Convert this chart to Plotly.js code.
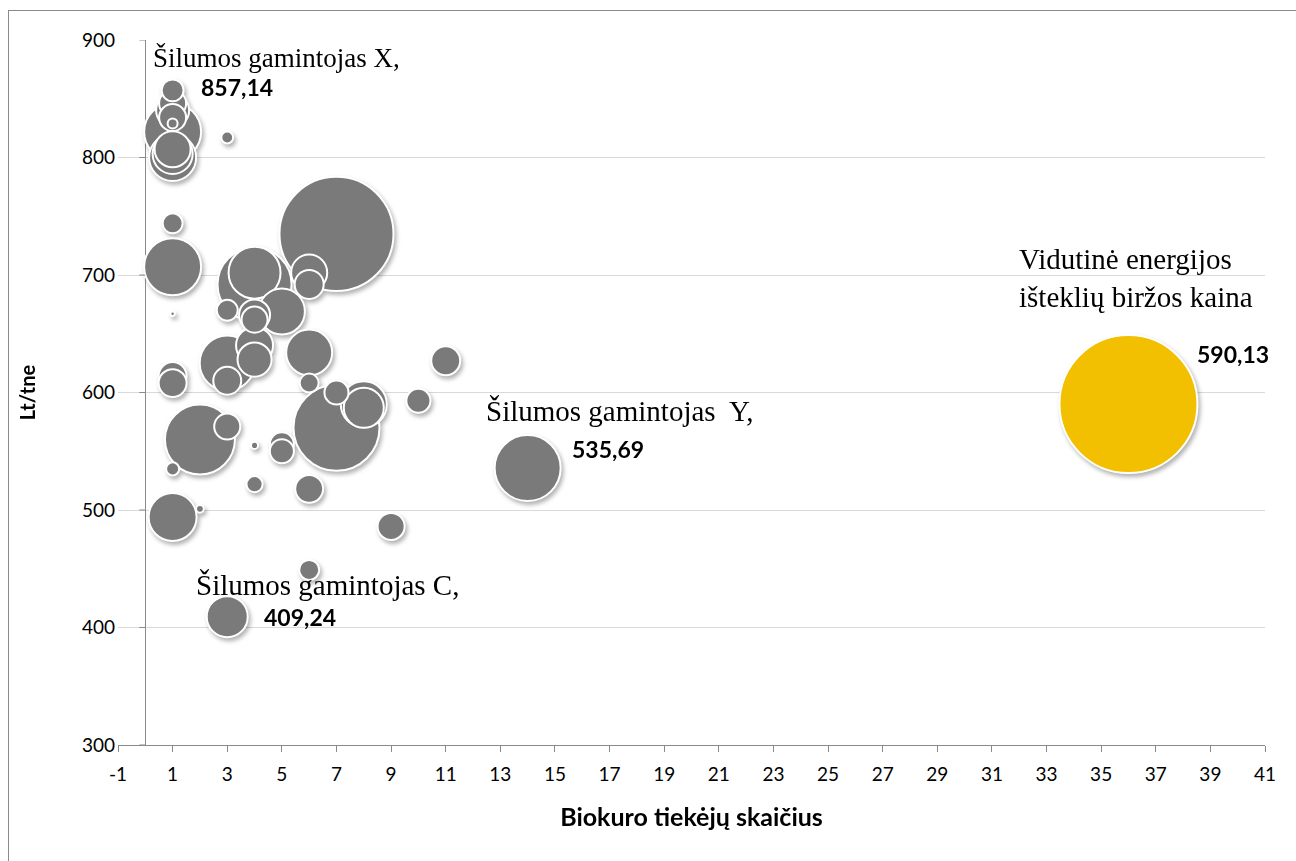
<!DOCTYPE html>
<html>
<head>
<meta charset="utf-8">
<script src="https://cdn.plot.ly/plotly-3.0.1.min.js"></script>
<style>
html,body{margin:0;padding:0;background:#fff;}
#wrap{position:relative;width:1296px;height:861px;overflow:hidden;}
#chart{position:absolute;left:0;top:0;width:1296px;height:861px;}
#frame{position:absolute;left:8px;top:10px;width:1300px;height:900px;border:1px solid #8a8a8a;pointer-events:none;}
.scatterlayer{filter:drop-shadow(2px 3px 2px rgba(0,0,0,0.30));}
</style>
</head>
<body>
<div id="wrap"><div id="chart"></div><div id="frame"></div></div>
<script>
// Biokuro tiekėjų skaičius (x), kaina Lt/tne (y), kiekis (burbulo dydis)
const tiekejai = [1,1,1,1,1,1,1,1,1,3,1,1,1,7,6,6,4,4,5,3,4,4,4,4,3,3,1,1,6,11,6,7,8,8,10,7,2,3,4,5,5,1,4,6,9,2,1,6,3,14];
const kaina    = [857.14,846,840,834,829,822,807,803,800,817,744,707,667,735,702,692,692,702,669,670,666,662,640,628,625,610,614,608,634,627,608,600,590,587,593,570,560,571,555,556,550,535,522,518,486,501,494,449,409.24,535.69];
const kiekis   = [48,73,109,73,10,325,130,160,221,14,40,325,2,1300,130,84,548,270,212,44,96,68,137,116,303,78,78,78,212,84,36,58,212,160,58,740,490,68,5,58,58,17,26,78,73,6,230,40,168,436];
// Vidutinė energijos išteklių biržos kaina
const vidX = [36];
const vidY = [590.13];
const vidKiekis = [1904];
const xTicks = [-1,1,3,5,7,9,11,13,15,17,19,21,23,25,27,29,31,33,35,37,39,41];
const yTicks = [300,400,500,600,700,800,900];
// labelled producers: index into arrays
const labels = [
  {i:0,  name:'Šilumos gamintojas X,', value:'857,14'},
  {i:49, name:'Šilumos gamintojas  Y,', value:'535,69'},
  {i:48, name:'Šilumos gamintojas C,', value:'409,24'}
];

const maxBubblePx = 138;
const allMax = Math.max(...kiekis, ...vidKiekis);
const sizeref = 2 * allMax / (maxBubblePx * maxBubblePx);

// draw larger bubbles first so smaller ones lie on top
const order = kiekis.map((v,i)=>i).sort((a,b)=>kiekis[b]-kiekis[a]);
const gx = order.map(i=>tiekejai[i]);
const gy = order.map(i=>kaina[i]);
const gs = order.map(i=>kiekis[i]);

const grey = {
  type:'scatter', mode:'markers', x:gx, y:gy,
  marker:{size:gs, sizemode:'area', sizeref:sizeref, color:'#7a7a7a', opacity:1,
          line:{color:'#ffffff', width:2}},
  hoverinfo:'x+y', showlegend:false, cliponaxis:false
};
const vid = {
  type:'scatter', mode:'markers', x:vidX, y:vidY,
  marker:{size:vidKiekis, sizemode:'area', sizeref:sizeref, color:'#f2c000', opacity:1,
          line:{color:'#ffffff', width:2}},
  hoverinfo:'x+y', showlegend:false, cliponaxis:false
};

const sansFam = 'Lato, Carlito, Calibri, sans-serif';
const serifFam = 'Liberation Serif, Times New Roman, serif';
const boldSans = {family:sansFam, size:23, color:'#000', weight:'bold'};

const annotations = [];
const nameShift = {0:[-22,32], 49:[-44,57], 48:[-33,32]};
const nameSize  = {0:27, 49:29, 48:29};
const valShift  = {0:[26,3], 49:[42,19], 48:[35,0]};
labels.forEach(l=>{
  annotations.push({x:tiekejai[l.i], y:kaina[l.i], xref:'x', yref:'y', text:l.name, showarrow:false,
    xanchor:'left', yanchor:'middle', xshift:nameShift[l.i][0], yshift:nameShift[l.i][1],
    font:{family:serifFam, size:nameSize[l.i], color:'#000'}});
  annotations.push({x:tiekejai[l.i], y:kaina[l.i], xref:'x', yref:'y', text:'<b>'+l.value+'</b>', showarrow:false,
    xanchor:'left', yanchor:'middle', xshift:valShift[l.i][0], yshift:valShift[l.i][1], font:boldSans});
});
annotations.push({x:vidX[0], y:vidY[0], xref:'x', yref:'y', text:'Vidutinė energijos<br>išteklių biržos kaina',
  showarrow:false, align:'left', xanchor:'left', yanchor:'middle', xshift:-111, yshift:126,
  font:{family:serifFam, size:29, color:'#000'}});
annotations.push({x:vidX[0], y:vidY[0], xref:'x', yref:'y', text:'<b>590,13</b>',
  showarrow:false, xanchor:'left', yanchor:'middle', xshift:67, yshift:50, font:boldSans});

// y tick marks at the axis line (x = 0)
const shapes = yTicks.map(v=>({type:'line', xref:'x', yref:'y', x0:-0.22, x1:0, y0:v, y1:v,
  line:{color:'#8a8a8a', width:1}}));

const tickFont = {family:sansFam, size:19, color:'#000'};
const layout = {
  width:1296, height:861,
  margin:{l:118, r:31, t:40, b:116},
  paper_bgcolor:'rgba(0,0,0,0)', plot_bgcolor:'rgba(0,0,0,0)',
  showlegend:false,
  xaxis:{range:[-1,41], tickvals:xTicks, ticktext:xTicks.map(String), showgrid:false,
    zeroline:true, zerolinecolor:'#8a8a8a', zerolinewidth:1,
    showline:true, linecolor:'#8a8a8a', linewidth:1,
    ticks:'outside', ticklen:6, tickcolor:'#8a8a8a', tickfont:tickFont, ticklabelstandoff:6,
    title:{text:'<b>Biokuro tiekėjų skaičius</b>', font:{family:sansFam, size:25, color:'#000'}, standoff:24},
    automargin:false, fixedrange:true},
  yaxis:{range:[300,900], tickvals:yTicks, showgrid:true, gridcolor:'#d9d9d9', gridwidth:1,
    zeroline:false, showline:false, ticks:'', tickfont:tickFont, ticklabelstandoff:2,
    title:{text:'<b>Lt/tne</b>', font:{family:sansFam, size:20, color:'#000'}, standoff:40},
    automargin:false, fixedrange:true},
  annotations:annotations,
  shapes:shapes
};

Plotly.newPlot('chart', [grey, vid], layout, {displayModeBar:false, staticPlot:true});
</script>
</body>
</html>
